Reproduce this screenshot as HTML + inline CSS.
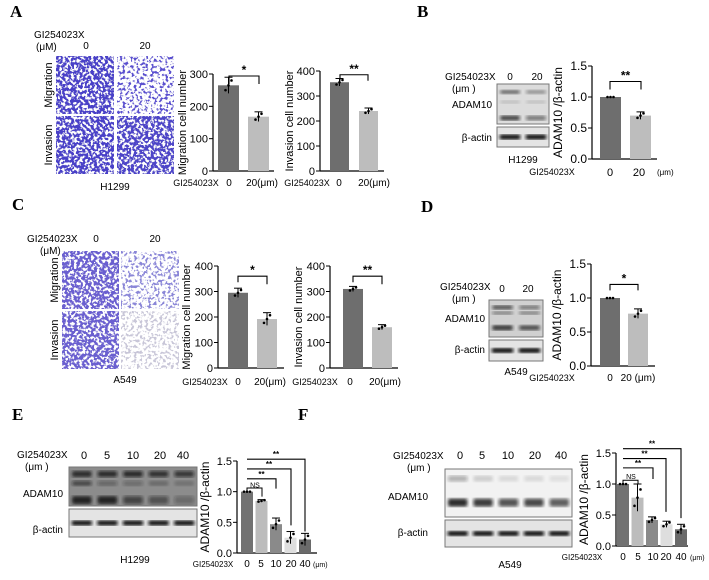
<!DOCTYPE html>
<html><head><meta charset="utf-8"><style>
body{margin:0;background:#fff}
svg{display:block;font-family:"Liberation Sans",Arial,sans-serif}
.lbl{font-family:"Liberation Serif",serif;font-weight:bold;font-size:17px}
</style></head><body>
<svg id="fig" width="709" height="580" viewBox="0 0 709 580" xmlns="http://www.w3.org/2000/svg">
<defs>
<filter id="speck" x="0" y="0" width="100%" height="100%">
<feTurbulence type="fractalNoise" baseFrequency="0.35" numOctaves="2" seed="3" result="n"/>
<feColorMatrix in="n" type="matrix" values="0 0 0 0 1  0 0 0 0 1  0 0 0 0 1  0 0 0 -9 4.6" result="w"/>
<feComposite in="w" in2="SourceGraphic" operator="over"/>
</filter>
<filter id="speck2" x="0" y="0" width="100%" height="100%">
<feTurbulence type="fractalNoise" baseFrequency="0.35" numOctaves="2" seed="7" result="n"/>
<feColorMatrix in="n" type="matrix" values="0 0 0 0 1  0 0 0 0 1  0 0 0 0 1  0 0 0 -9 5.6" result="w"/>
<feComposite in="w" in2="SourceGraphic" operator="over"/>
</filter>
<filter id="blur"><feGaussianBlur stdDeviation="1.5"/></filter>
</defs>
<g id="static"></g>
<g id="charts"></g>
</svg>
<script>
// ---- data ----
const catsTwo = ["0","20(μm)"];
const aMigVals = [265,168];
const aMigErr = [25,15];
const aInvVals = [355,240];
const aInvErr = [15,12];
const bVals = [1.0,0.70];
const bErr = [0,0.06];
const cMigVals = [295,192];
const cMigErr = [18,25];
const cInvVals = [310,160];
const cInvErr = [10,10];
const dVals = [1.0,0.77];
const dErr = [0,0.07];
const catsFive = ["0","5","10","20","40"];
const eVals = [1.0,0.85,0.47,0.25,0.22];
const eErr = [0,0.02,0.1,0.1,0.1];
const fVals = [1.0,0.78,0.42,0.35,0.27];
const fErr = [0,0.22,0.05,0.05,0.08];
const ticks400 = [0,100,200,300,400];
const ticks300 = [0,100,200,300];
const ticks15 = ["0.0","0.5","1.0","1.5"];

const NS="http://www.w3.org/2000/svg";
const svg=document.getElementById('charts');
const st=document.getElementById('static');
function mk(tag,attrs,parent,txt){const e=document.createElementNS(NS,tag);for(const k in attrs)e.setAttribute(k,attrs[k]);if(txt!==undefined)e.textContent=txt;(parent||svg).appendChild(e);return e;}

function chart(o){
  const g=mk('g',{});
  
  
  const y=v=>o.y0-(v-o.min)/(o.max-o.min)*(o.y0-o.y1);
  mk('line',{x1:o.ax,y1:o.y1,x2:o.ax,y2:o.y0,stroke:'#000','stroke-width':1.2},g);
  mk('line',{x1:o.ax,y1:o.y0,x2:o.xend,y2:o.y0,stroke:'#000','stroke-width':1.2},g);
  o.ticks.forEach(t=>{const yy=y(+t);
    mk('line',{x1:o.ax-4,y1:yy,x2:o.ax,y2:yy,stroke:'#000'},g);
    const tx=mk('text',{x:o.ax-5,y:yy+4,'font-size':o.fs||11,'text-anchor':'end'},g,t);
    });
  const yt=mk('text',{transform:`translate(${o.ax-o.tOff},${(o.y0+o.y1)/2}) rotate(-90)`,'font-size':o.tfs||11,'text-anchor':'middle'},g,o.title);
  
  o.vals.forEach((v,i)=>{
    const x=o.bx+i*o.step;
    const r=mk('rect',{x:x,y:y(v),width:o.bw,height:o.y0-y(v),fill:o.colors[i]},g);
    
    const cx=x+o.bw/2,e=o.err[i];
    if(e>0){mk('line',{x1:cx,y1:y(v+e),x2:cx,y2:y(v-e),stroke:'#000'},g);
      mk('line',{x1:cx-4,y1:y(v+e),x2:cx+4,y2:y(v+e),stroke:'#000'},g);}
    [-0.6,0,0.6].forEach((d,k)=>mk('circle',{cx:cx+(k-1)*3,cy:y(v+d*e),r:1.3,fill:'#000'},g));
  });
  return {g,y};
}
function bracket(g,x1,x2,yTop,h1,h2,txt,fs){
  mk('path',{d:`M${x1} ${yTop+h1}V${yTop}H${x2}V${yTop+h2}`,fill:'none',stroke:'#000','stroke-width':1.1},g);
  mk('text',{x:(x1+x2)/2,y:yTop-2,'font-size':fs||12,'text-anchor':'middle','font-weight':'bold'},g,txt);
}
function xlabels(g,xs,labs,yy,fs){labs.forEach((l,i)=>mk('text',{x:xs[i],y:yy,'font-size':fs,'text-anchor':'middle'},g,l));}
function T(x,y,t,fs,anchor,name,extra){const e=mk('text',Object.assign({x:x,y:y,'font-size':fs,'text-anchor':anchor||'start'},extra||{}),st,t);
  return e;}

// ---- panel labels ----
[['A',10,17],['B',417,17],['C',12,210],['D',421,212],['E',12,420],['F',298,420]].forEach(p=>{const e=T(p[1],p[2],p[0],17,'start','panel-label-'+p[0].toLowerCase());e.setAttribute('class','lbl');});

// ---- transwell images ----
function img(x,y,w,h,col,f,name){const r=mk('rect',{x:x,y:y,width:w,height:h,fill:col,filter:`url(#${f})`},st);}
img(56,56,58,58,'#4a3fc8','speck','a-migration-0');img(117,56,57,58,'#5a4fd0','speck2','a-migration-20');
img(56,116,58,58,'#4a3fc8','speck','a-invasion-0');img(117,116,57,58,'#4d44c8','speck','a-invasion-20');
img(62,251,57,58,'#6a5ed0','speck','c-migration-0');img(121,251,58,58,'#8a86d8','speck2','c-migration-20');
img(62,311,57,58,'#6a5ed0','speck','c-invasion-0');img(121,311,58,58,'#c8c6d8','speck2','c-invasion-20');
T(34,38,'GI254023X',10,'start','a-drug-label');T(36,50,'(μM)',10,'start','a-unit');T(86,49,'0',10,'middle','a-dose-0');T(145,49,'20',10,'middle','a-dose-20');
T(0,0,'Migration',11,'middle','a-migration-label',{transform:'translate(52,85) rotate(-90)'});
T(0,0,'Invasion',11,'middle','a-invasion-label',{transform:'translate(52,145) rotate(-90)'});
T(115,190,'H1299',10,'middle','a-cell-line');
T(27,242,'GI254023X',10,'start','c-drug-label');T(40,254,'(μM)',10,'start','c-unit');T(96,242,'0',10,'middle','c-dose-0');T(155,242,'20',10,'middle','c-dose-20');
T(0,0,'Migration',11,'middle','c-migration-label',{transform:'translate(58,280) rotate(-90)'});
T(0,0,'Invasion',11,'middle','c-invasion-label',{transform:'translate(58,340) rotate(-90)'});
T(125,383,'A549',10,'middle','c-cell-line');

// ---- blots ----
function blot(x,y,w,h,ah,lanes,bands,bg,name){
  const g=mk('g',{},st);
  mk('rect',{x:x,y:y,width:w,height:h,fill:bg,stroke:'#777'},g);
  mk('rect',{x:x,y:y+h+3,width:w,height:ah,fill:'#e4e4e4',stroke:'#777'},g);
  const lw=w/lanes;
  for(let i=0;i<lanes;i++){
    bands.forEach(b=>mk('rect',{x:x+i*lw+lw*0.12,y:y+b[0]*h-b[1]/2,width:lw*0.76,height:b[1],rx:2,fill:`rgba(20,20,20,${b[2][i]})`,filter:'url(#blur)'},g));
    mk('rect',{x:x+i*lw+lw*0.1,y:y+h+3+ah/2-2.5,width:lw*0.8,height:5,rx:2,fill:'#111',filter:'url(#blur)'},g);
  }
}
blot(497,84,52,40,20,2,[[0.2,4,[0.6,0.4]],[0.45,3,[0.15,0.15]],[0.85,5,[0.75,0.5]]],'#dcdcdc','b-blot');
T(445,80,'GI254023X',10,'start','b-drug-label');T(452,92,'(μm )',10,'start','b-unit');T(510,80,'0',10,'middle','b-dose-0');T(537,80,'20',10,'middle','b-dose-20');
T(492,108,'ADAM10',10,'end','b-adam10-label');T(492,141,'β-actin',10,'end','b-actin-label');T(523,163,'H1299',10,'middle','b-cell-line');
blot(489,300,54,37,21,2,[[0.2,4,[0.7,0.5]],[0.35,3,[0.5,0.5]],[0.75,5,[0.85,0.7]]],'#d0d0d0','d-blot');
T(440,290,'GI254023X',10,'start','d-drug-label');T(452,302,'(μm )',10,'start','d-unit');T(502,292,'0',10,'middle','d-dose-0');T(528,292,'20',10,'middle','d-dose-20');
T(485,322,'ADAM10',10,'end','d-adam10-label');T(485,353,'β-actin',10,'end','d-actin-label');T(516,375,'A549',10,'middle','d-cell-line');
blot(69,467,128,39,28,5,[[0.18,6,[0.85,0.8,0.8,0.75,0.7]],[0.42,5,[0.6,0.35,0.3,0.25,0.2]],[0.85,8,[0.9,0.9,0.6,0.5,0.3]]],'#8c8c8c','e-blot');
T(17,458,'GI254023X',10,'start','e-drug-label');T(25,470,'(μm )',10,'start','e-unit');
[84,107,133,160,183].forEach((x,i)=>T(x,459,catsFive[i],11,'middle','e-dose-'+i));
T(63,497,'ADAM10',10,'end','e-adam10-label');T(63,533,'β-actin',10,'end','e-actin-label');T(135,563,'H1299',10,'middle','e-cell-line');
blot(445,469,127,48,27,5,[[0.2,6,[0.3,0.15,0.1,0.1,0.08]],[0.7,8,[0.9,0.8,0.7,0.75,0.65]]],'#f2f2f2','f-blot');
T(393,459,'GI254023X',10,'start','f-drug-label');T(407,471,'(μm )',10,'start','f-unit');
[460,482,508,535,561].forEach((x,i)=>T(x,459,catsFive[i],11,'middle','f-dose-'+i));
T(428,500,'ADAM10',10,'end','f-adam10-label');T(428,536,'β-actin',10,'end','f-actin-label');T(510,568,'A549',10,'middle','f-cell-line');

// ---- charts ----
let c;
c=chart({name:'a-migration-chart',ax:213,y0:171,y1:74,min:0,max:300,xend:274,ticks:ticks300,title:'Migration cell number',tOff:27,vals:aMigVals,err:aMigErr,bx:218,step:30,bw:21,colors:['#6e6e6e','#bdbdbd']});
bracket(c.g,229,259,c.y(300)+2,8,8,'*');
mk('text',{x:196,y:186,'font-size':9,'text-anchor':'middle'},c.g,'GI254023X');xlabels(c.g,[229,262],catsTwo,186,10);
c=chart({name:'a-invasion-chart',ax:320,y0:171,y1:71,min:0,max:400,xend:384,ticks:ticks400,title:'Invasion cell number',tOff:27,vals:aInvVals,err:aInvErr,bx:330,step:29,bw:19,colors:['#6e6e6e','#bdbdbd']});
bracket(c.g,340,368,c.y(385),6,6,'**');
mk('text',{x:307,y:186,'font-size':9,'text-anchor':'middle'},c.g,'GI254023X');xlabels(c.g,[339,374],catsTwo,186,10);
c=chart({name:'b-ratio-chart',ax:592,y0:159,y1:66,min:0,max:1.5,xend:657,ticks:ticks15,title:'ADAM10 /β-actin',tOff:30,tfs:12,fs:12,vals:bVals,err:bErr,bx:600,step:30,bw:21,colors:['#6e6e6e','#bdbdbd']});
bracket(c.g,610,641,c.y(1.25),8,8,'**');
mk('text',{x:552,y:175,'font-size':9,'text-anchor':'middle'},c.g,'GI254023X');xlabels(c.g,[610,639],['0','20'],176,11);mk('text',{x:657,y:175,'font-size':8},c.g,'(μm)');
c=chart({name:'c-migration-chart',ax:218,y0:368,y1:266,min:0,max:400,xend:284,ticks:ticks400,title:'Migration cell number',tOff:28,vals:cMigVals,err:cMigErr,bx:228,step:29,bw:20,colors:['#6e6e6e','#bdbdbd']});
bracket(c.g,238,267,c.y(360),6,8,'*');
mk('text',{x:205,y:385,'font-size':9,'text-anchor':'middle'},c.g,'GI254023X');xlabels(c.g,[238,270],catsTwo,385,10);
c=chart({name:'c-invasion-chart',ax:330,y0:368,y1:266,min:0,max:400,xend:398,ticks:ticks400,title:'Invasion cell number',tOff:28,vals:cInvVals,err:cInvErr,bx:343,step:29,bw:20,colors:['#6e6e6e','#bdbdbd']});
bracket(c.g,353,382,c.y(360),6,8,'**');
mk('text',{x:315,y:385,'font-size':9,'text-anchor':'middle'},c.g,'GI254023X');xlabels(c.g,[350,385],catsTwo,385,10);
c=chart({name:'d-ratio-chart',ax:591,y0:366,y1:264,min:0,max:1.5,xend:655,ticks:ticks15,title:'ADAM10 /β-actin',tOff:30,tfs:12,fs:12,vals:dVals,err:dErr,bx:600,step:28,bw:20,colors:['#6e6e6e','#bdbdbd']});
bracket(c.g,610,638,c.y(1.2),6,6,'*');
mk('text',{x:552,y:381,'font-size':9,'text-anchor':'middle'},c.g,'GI254023X');xlabels(c.g,[610,638],['0','20 (μm)'],381,10);
const fiveCols=['#727272','#bcbcbc','#8a8a8a','#dedede','#6a6a6a'];
// E
c=chart({name:'e-ratio-chart',ax:237,y0:553,y1:461,min:0,max:1.5,xend:317,ticks:ticks15,title:'ADAM10 /β-actin',tOff:28,tfs:12,fs:11,vals:eVals,err:eErr,bx:241,step:14.5,bw:12,colors:fiveCols});
bracket(c.g,247,305,c.y(1.53),0,c.y(0.35)-c.y(1.53),'**',8);
bracket(c.g,247,291,c.y(1.37),0,c.y(0.45)-c.y(1.37),'**',8);
bracket(c.g,247,276,c.y(1.21),0,c.y(1.05)-c.y(1.21),'**',8);
mk('text',{x:255,y:c.y(1.07),'font-size':7,'text-anchor':'middle'},c.g,'NS');mk('path',{d:`M247 ${c.y(1.0)}V${c.y(1.06)}H262V${c.y(0.92)}`,fill:'none',stroke:'#000'},c.g);
mk('text',{x:213,y:567,'font-size':8,'text-anchor':'middle'},c.g,'GI254023X');xlabels(c.g,[247,261,276,291,305],catsFive,567,10);mk('text',{x:313,y:567,'font-size':7},c.g,'(μm)');
// F
c=chart({name:'f-ratio-chart',ax:616,y0:546,y1:453,min:0,max:1.5,xend:688,ticks:ticks15,title:'ADAM10 /β-actin',tOff:28,tfs:12,fs:11,vals:fVals,err:fErr,bx:617,step:14.5,bw:12,colors:fiveCols});
bracket(c.g,623,681,c.y(1.57),0,c.y(0.45)-c.y(1.57),'**',8);
bracket(c.g,623,666,c.y(1.41),0,c.y(0.55)-c.y(1.41),'**',8);
bracket(c.g,623,653,c.y(1.26),0,c.y(1.08)-c.y(1.26),'**',8);
mk('text',{x:631,y:c.y(1.08),'font-size':7,'text-anchor':'middle'},c.g,'NS');mk('path',{d:`M623 ${c.y(1.0)}V${c.y(1.06)}H638V${c.y(1.0)}`,fill:'none',stroke:'#000'},c.g);
mk('text',{x:582,y:560,'font-size':8,'text-anchor':'middle'},c.g,'GI254023X');xlabels(c.g,[623,638,653,666,681],catsFive,560,10);mk('text',{x:690,y:560,'font-size':7},c.g,'(μm)');
</script>
</body></html>
